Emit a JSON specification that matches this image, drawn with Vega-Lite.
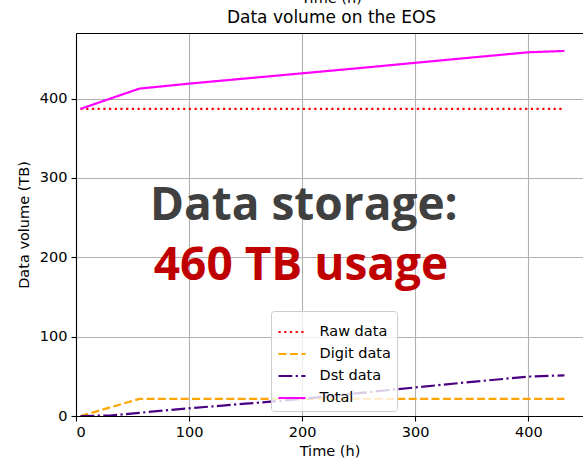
{
  "$schema": "https://vega.github.io/schema/vega-lite/v6.json",
  "autosize": {"type": "none"},
  "width": 507,
  "height": 383,
  "padding": {"left": 76, "top": 33, "right": 0, "bottom": 46},
  "background": "white",
  "config": {
    "view": {"stroke": null},
    "font": "DejaVu Sans",
    "axis": {
      "labelFont": "DejaVu Sans",
      "labelFontSize": 14.5,
      "labelColor": "black",
      "titleFont": "DejaVu Sans",
      "titleFontSize": 14.5,
      "titleFontWeight": "normal",
      "titleColor": "black",
      "tickColor": "black",
      "tickSize": 5,
      "tickWidth": 1.1,
      "domainColor": "black",
      "domainWidth": 1.1,
      "gridColor": "#b0b0b0",
      "gridWidth": 1.1,
      "labelPadding": 4
    },
    "legend": {
      "orient": "none",
      "legendX": 195,
      "legendY": 278,
      "symbolType": "stroke",
      "symbolSize": 729,
      "symbolStrokeWidth": 2.2,
      "labelFont": "DejaVu Sans",
      "labelFontSize": 14.5,
      "labelColor": "black",
      "labelOffset": 12.5,
      "padding": 6,
      "rowPadding": 0,
      "fillColor": "rgba(255,255,255,0.8)",
      "strokeColor": "#cccccc",
      "cornerRadius": 3
    }
  },
  "title": {
    "text": "Time (h)",
    "subtitle": "Data volume on the EOS",
    "anchor": "middle",
    "frame": "group",
    "font": "DejaVu Sans",
    "fontSize": 14.5,
    "fontWeight": "normal",
    "color": "black",
    "subtitleFont": "DejaVu Sans",
    "subtitleFontSize": 17,
    "subtitleColor": "black",
    "subtitlePadding": 4,
    "offset": 6,
    "dx": 2
  },
  "layer": [
    {
      "data": {
        "values": [
          {"time": 4, "value": 387, "series": "Raw data"},
          {"time": 432, "value": 387, "series": "Raw data"},
          {"time": 4, "value": 0, "series": "Digit data"},
          {"time": 56, "value": 21.5, "series": "Digit data"},
          {"time": 432, "value": 21.5, "series": "Digit data"},
          {"time": 4, "value": 0, "series": "Dst data"},
          {"time": 30, "value": 0.6, "series": "Dst data"},
          {"time": 56, "value": 4, "series": "Dst data"},
          {"time": 100, "value": 9.7, "series": "Dst data"},
          {"time": 150, "value": 15.5, "series": "Dst data"},
          {"time": 200, "value": 21.5, "series": "Dst data"},
          {"time": 250, "value": 28.8, "series": "Dst data"},
          {"time": 300, "value": 36, "series": "Dst data"},
          {"time": 350, "value": 43, "series": "Dst data"},
          {"time": 400, "value": 49.6, "series": "Dst data"},
          {"time": 432, "value": 51.3, "series": "Dst data"},
          {"time": 4, "value": 387, "series": "Total"},
          {"time": 56, "value": 412.5, "series": "Total"},
          {"time": 100, "value": 418.8, "series": "Total"},
          {"time": 150, "value": 425.3, "series": "Total"},
          {"time": 200, "value": 431.8, "series": "Total"},
          {"time": 250, "value": 438.3, "series": "Total"},
          {"time": 300, "value": 445, "series": "Total"},
          {"time": 350, "value": 451.7, "series": "Total"},
          {"time": 400, "value": 458.3, "series": "Total"},
          {"time": 432, "value": 460, "series": "Total"}
        ]
      },
      "mark": {"type": "line", "strokeWidth": 2.2, "clip": true},
      "encoding": {
        "x": {
          "field": "time",
          "type": "quantitative",
          "scale": {"domain": [0, 448.4], "nice": false, "zero": false},
          "axis": {"orient": "bottom", "values": [0, 100, 200, 300, 400], "title": "Time (h)", "titlePadding": 6}
        },
        "y": {
          "field": "value",
          "type": "quantitative",
          "scale": {"domain": [0, 482.6], "nice": false, "zero": false},
          "axis": {"values": [0, 100, 200, 300, 400], "title": "Data volume (TB)", "titlePadding": 8}
        },
        "color": {
          "field": "series",
          "type": "nominal",
          "title": null,
          "scale": {"domain": ["Raw data", "Digit data", "Dst data", "Total"], "range": ["#ff0000", "#ffa500", "#4b0082", "#ff00ff"]}
        },
        "strokeDash": {
          "field": "series",
          "type": "nominal",
          "title": null,
          "scale": {"domain": ["Raw data", "Digit data", "Dst data", "Total"], "range": [[2.2, 3.5], [8, 3.4], [13.8, 3.4, 2.2, 3.4], [1, 0]]}
        }
      }
    },
    {
      "data": {"values": [{"label": "Data storage:"}]},
      "mark": {"type": "text", "font": "Open Sans", "fontWeight": "bold", "fontSize": 46, "color": "#404040", "align": "center", "baseline": "alphabetic"},
      "encoding": {
        "x": {"datum": 201.5, "type": "quantitative", "axis": {"orient": "top", "labels": false, "ticks": false, "grid": false, "domain": true, "title": null}},
        "y": {"datum": 247, "type": "quantitative"},
        "text": {"field": "label"}
      }
    },
    {
      "data": {"values": [{"label": "460 TB usage"}]},
      "mark": {"type": "text", "font": "Open Sans", "fontWeight": "bold", "fontSize": 46, "color": "#c00000", "align": "center", "baseline": "alphabetic"},
      "encoding": {
        "x": {"datum": 199, "type": "quantitative", "axis": null},
        "y": {"datum": 171.4, "type": "quantitative"},
        "text": {"field": "label"}
      }
    }
  ],
  "resolve": {"axis": {"x": "independent"}}
}
